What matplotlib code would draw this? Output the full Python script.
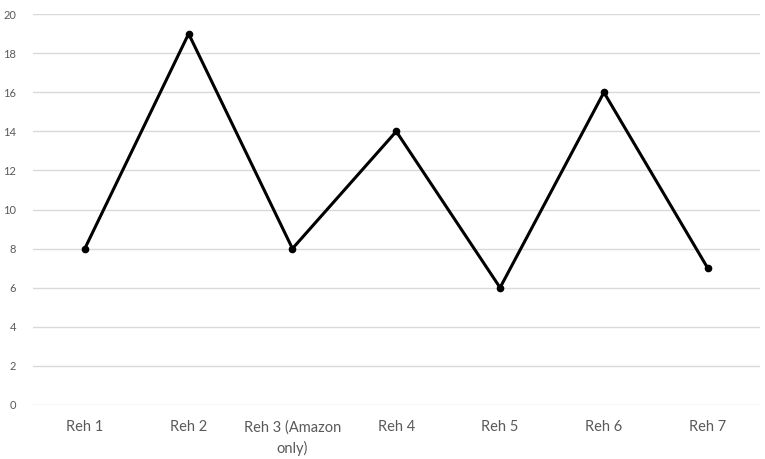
import matplotlib.pyplot as plt

plt.rcParams['font.family'] = ['Lato', 'DejaVu Sans']

labels = ["Reh 1", "Reh 2", "Reh 3 (Amazon\nonly)", "Reh 4", "Reh 5", "Reh 6", "Reh 7"]
values = [8, 19, 8, 14, 6, 16, 7]

fig = plt.figure(figsize=(7.65, 4.59), dpi=100)
ax = fig.add_axes([0.043, 0.118, 0.95, 0.851])

x = list(range(len(labels)))
ax.plot(x, values, color='black', lw=2.2, marker='o', ms=4.5, zorder=3)

ax.set_xlim(-0.5, len(labels) - 0.5)
ax.set_ylim(0, 20)
ax.set_yticks(range(0, 21, 2))
ax.set_xticks(x)
ax.set_xticklabels(labels, fontsize=10.5, color='#595959', linespacing=1.5)
ax.tick_params(axis='y', labelsize=8, colors='#595959', length=0, pad=12)
ax.tick_params(axis='x', length=0, pad=11)
ax.grid(axis='y', color='#d9d9d9', lw=1)
ax.set_axisbelow(True)
for s in ax.spines.values():
    s.set_visible(False)

fig.savefig('out.png', dpi=100)
